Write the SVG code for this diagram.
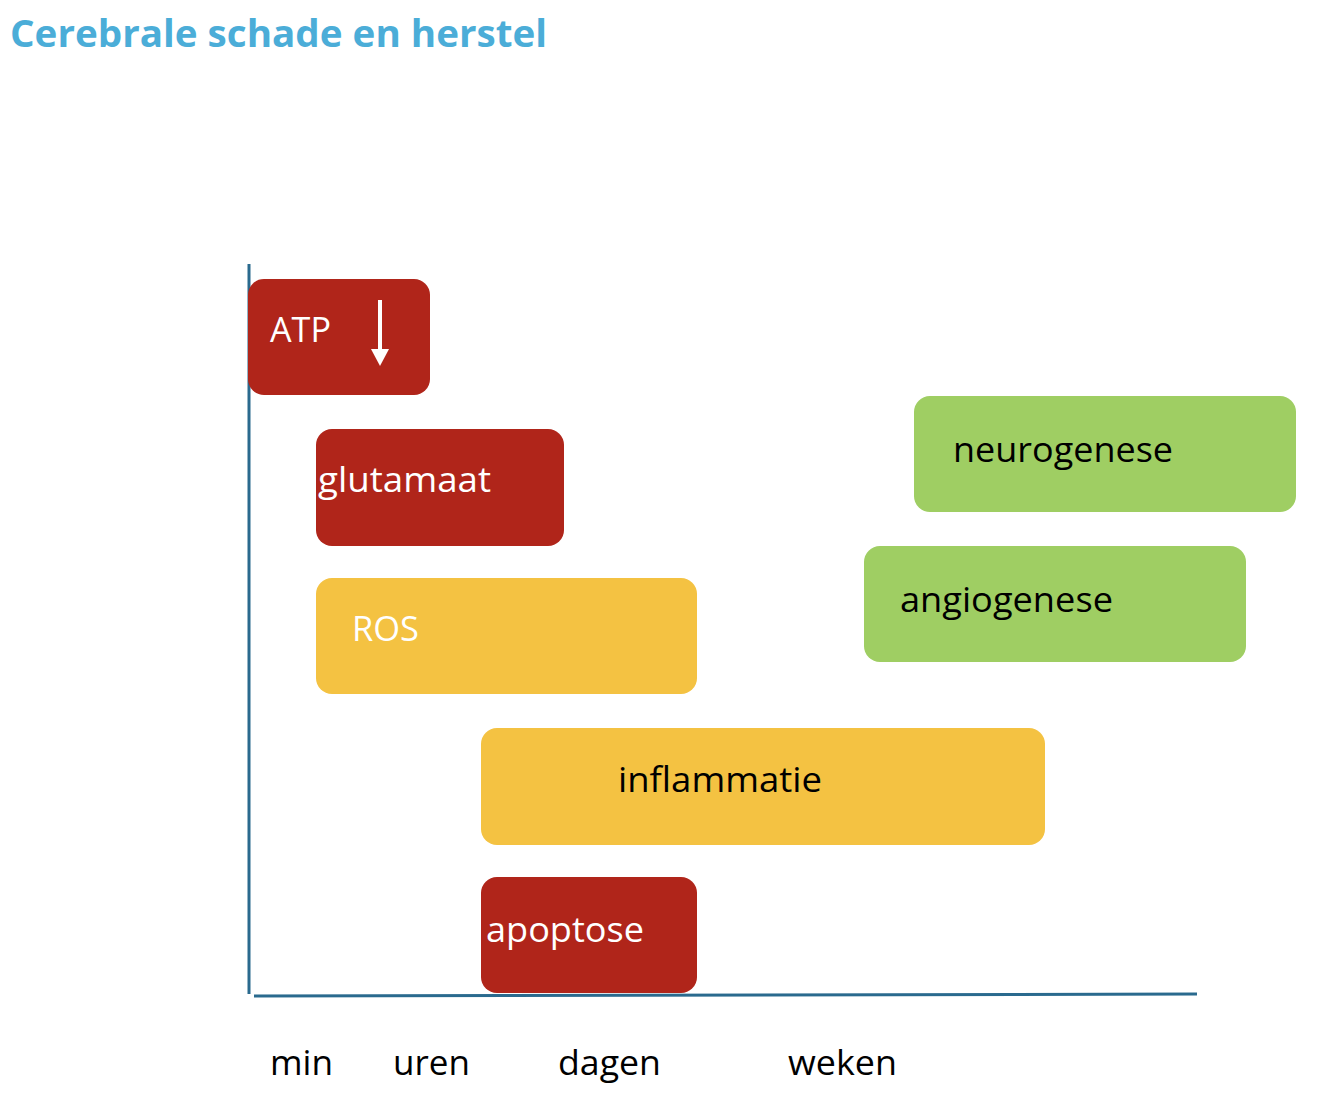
<svg xmlns="http://www.w3.org/2000/svg" width="1342" height="1116" viewBox="0 0 1342 1116">
<defs>
<style>
.red{fill:#b0251a}
.yel{fill:#f4c242}
.grn{fill:#9fce63}
.lbl{font-family:"Open Sans","Noto Sans","Liberation Sans",sans-serif;font-size:34px}
.w{fill:#ffffff}
.k{fill:#000000}
.axis{stroke:#2a6a8e;stroke-width:3;fill:none}
</style>
</defs>
<rect width="1342" height="1116" fill="#ffffff"/>
<text x="10" y="47" font-family="'Open Sans','Noto Sans',sans-serif" font-weight="bold" font-size="38" fill="#4badd8" textLength="537" lengthAdjust="spacingAndGlyphs">Cerebrale schade en herstel</text>
<g id="connectors">
<line class="axis" x1="249" y1="264" x2="249" y2="994"/>
<line class="axis" x1="254" y1="996" x2="1197" y2="994"/>
</g>
<g id="atp">
<rect class="red" x="248" y="279" width="182" height="116" rx="16"/>
<text class="lbl w" x="270" y="342" textLength="61" lengthAdjust="spacingAndGlyphs">ATP</text>
<line x1="380" y1="300" x2="380" y2="352" stroke="#ffffff" stroke-width="4"/>
<polygon points="371,349 389,349 380,366" fill="#ffffff"/>
</g>
<g id="glutamaat">
<rect class="red" x="316" y="429" width="248" height="117" rx="16"/>
<text class="lbl w" x="318" y="492" textLength="173" lengthAdjust="spacingAndGlyphs">glutamaat</text>
</g>
<g id="ros">
<rect class="yel" x="316" y="578" width="381" height="116" rx="16"/>
<text class="lbl w" x="352" y="641" textLength="67" lengthAdjust="spacingAndGlyphs">ROS</text>
</g>
<g id="inflammatie">
<rect class="yel" x="481" y="728" width="564" height="117" rx="16"/>
<text class="lbl k" x="618" y="792" textLength="204" lengthAdjust="spacingAndGlyphs">inflammatie</text>
</g>
<g id="apoptose">
<rect class="red" x="481" y="877" width="216" height="116" rx="16"/>
<text class="lbl w" x="486" y="942" textLength="158" lengthAdjust="spacingAndGlyphs">apoptose</text>
</g>
<g id="neurogenese">
<rect class="grn" x="914" y="396" width="382" height="116" rx="16"/>
<text class="lbl k" x="953" y="462" textLength="220" lengthAdjust="spacingAndGlyphs">neurogenese</text>
</g>
<g id="angiogenese">
<rect class="grn" x="864" y="546" width="382" height="116" rx="16"/>
<text class="lbl k" x="900" y="612" textLength="213" lengthAdjust="spacingAndGlyphs">angiogenese</text>
</g>
<g id="timeaxis-labels">
<text class="lbl k" x="270" y="1075" textLength="63" lengthAdjust="spacingAndGlyphs">min</text>
<text class="lbl k" x="393" y="1075" textLength="77" lengthAdjust="spacingAndGlyphs">uren</text>
<text class="lbl k" x="558" y="1075" textLength="103" lengthAdjust="spacingAndGlyphs">dagen</text>
<text class="lbl k" x="788" y="1075" textLength="109" lengthAdjust="spacingAndGlyphs">weken</text>
</g>
</svg>
